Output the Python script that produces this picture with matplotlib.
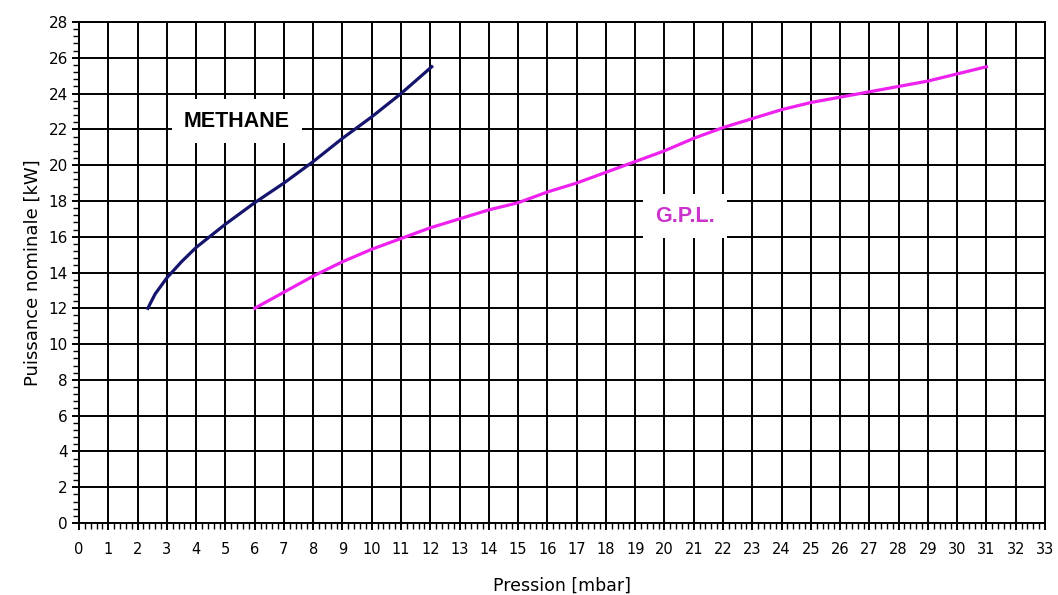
import matplotlib.pyplot as plt
from matplotlib.ticker import MultipleLocator

# values
methane_p = [2.35, 2.6, 3.0, 3.5, 4.0, 5.0, 6.0, 7.0, 8.0, 9.0, 10.0, 11.0, 12.05]
methane_kw = [12.0, 12.8, 13.7, 14.6, 15.4, 16.7, 17.9, 19.0, 20.2, 21.5, 22.7, 24.0, 25.5]

gpl_p = [6, 7, 8, 9, 10, 11, 12, 13, 14, 15, 16, 17, 18, 19, 20, 21, 22, 23, 24, 25, 26, 27, 28, 29, 30, 31]
gpl_kw = [12.0, 12.9, 13.8, 14.6, 15.3, 15.9, 16.5, 17.0, 17.5, 17.9, 18.5, 19.0, 19.6, 20.2, 20.8,
          21.5, 22.1, 22.6, 23.1, 23.5, 23.8, 24.1, 24.4, 24.7, 25.1, 25.5]

fig = plt.figure(figsize=(10.58, 5.95), dpi=100)
ax = fig.add_axes([0.0747, 0.121, 0.913, 0.842])

ax.plot(methane_p, methane_kw, color='#15156e', lw=2.3, zorder=3)
ax.plot(gpl_p, gpl_kw, color='#ee22ee', lw=2.3, zorder=3)

ax.set_xlim(0, 33)
ax.set_ylim(0, 28)
ax.xaxis.set_major_locator(MultipleLocator(1))
ax.xaxis.set_minor_locator(MultipleLocator(0.2))
ax.yaxis.set_major_locator(MultipleLocator(2))
ax.yaxis.set_minor_locator(MultipleLocator(0.4))
ax.grid(True, which='major', color='black', lw=1.4)
ax.set_axisbelow(True)
for s in ax.spines.values():
    s.set_color('black')
    s.set_linewidth(1.4)

ax.tick_params(which='major', direction='out', length=5, width=1.4, labelsize=10.5, pad=9)
ax.tick_params(axis='y', which='major', pad=3, labelsize=11)
ax.tick_params(which='minor', direction='out', length=4, width=1.0)

ax.set_xlabel('Pression [mbar]', fontsize=12.5, labelpad=14)
ax.set_ylabel('Puissance nominale [kW]', fontsize=13, labelpad=5)

ax.text(5.39, 22.46, 'METHANE', fontsize=15.5, fontweight='bold', color='black',
        family='Liberation Sans', ha='center', va='center', zorder=4,
        bbox=dict(facecolor='white', edgecolor='none', boxstyle='square,pad=0.55'))
ax.text(20.7, 17.15, 'G.P.L.', fontsize=15.5, fontweight='bold', color='#cc33cc',
        family='Liberation Sans', ha='center', va='center', zorder=4,
        bbox=dict(facecolor='white', edgecolor='none', boxstyle='square,pad=0.55'))

fig.savefig('out.png', dpi=100)
